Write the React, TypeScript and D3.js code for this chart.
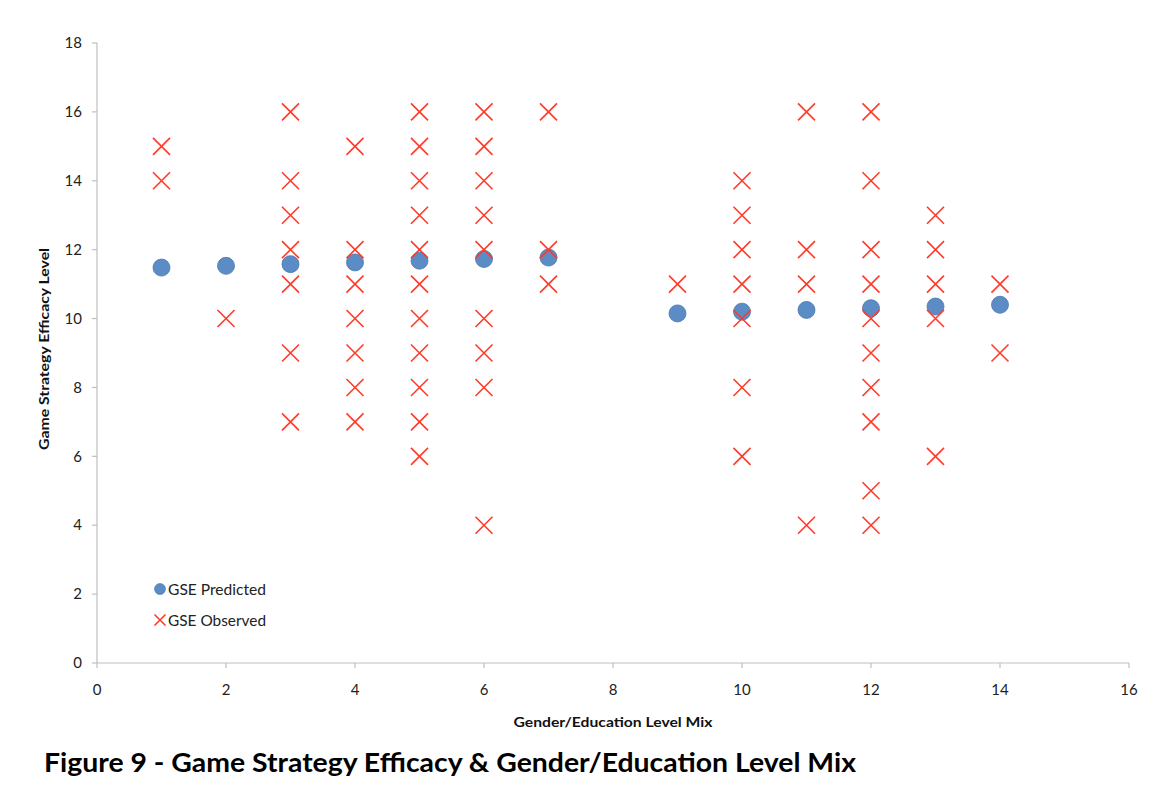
import React from "react";
import * as d3 from "d3";

const predX = [1, 2, 3, 4, 5, 6, 7, 9, 10, 11, 12, 13, 14];
const predY = [11.48, 11.53, 11.58, 11.63, 11.68, 11.73, 11.77, 10.15, 10.2, 10.25, 10.3, 10.35, 10.4];

const obsX = [
  1, 1,
  2,
  3, 3, 3, 3, 3, 3, 3,
  4, 4, 4, 4, 4, 4, 4,
  5, 5, 5, 5, 5, 5, 5, 5, 5, 5, 5,
  6, 6, 6, 6, 6, 6, 6, 6, 6,
  7, 7, 7,
  9,
  10, 10, 10, 10, 10, 10, 10,
  11, 11, 11, 11,
  12, 12, 12, 12, 12, 12, 12, 12, 12, 12,
  13, 13, 13, 13, 13,
  14, 14,
];
const obsY = [
  15, 14,
  10,
  16, 14, 13, 12, 11, 9, 7,
  15, 12, 11, 10, 9, 8, 7,
  16, 15, 14, 13, 12, 11, 10, 9, 8, 7, 6,
  16, 15, 14, 13, 12, 10, 9, 8, 4,
  16, 12, 11,
  11,
  14, 13, 12, 11, 10, 8, 6,
  16, 12, 11, 4,
  16, 14, 12, 11, 10, 9, 8, 7, 5, 4,
  13, 12, 11, 10, 6,
  11, 9,
];

const xTicks = [0, 2, 4, 6, 8, 10, 12, 14, 16];
const yTicks = [0, 2, 4, 6, 8, 10, 12, 14, 16, 18];

const titleText = "Figure 9 - Game Strategy Efficacy & Gender/Education Level Mix";
const xLabel = "Gender/Education Level Mix";
const yLabel = "Game Strategy Efficacy Level";
const legendLabels = ["GSE Predicted", "GSE Observed"];

const W = 1155;
const H = 785;
const left = 97;
const right = 1129;
const top = 43;
const bottom = 663;

const font = "Lato, 'Open Sans', sans-serif";
const red = "#ff3a2a";
const blue = "#5b8cc6";

function Cross({ cx, cy, s }: { cx: number; cy: number; s: number }) {
  return (
    <path
      d={`M${cx - s},${cy - s}L${cx + s},${cy + s}M${cx - s},${cy + s}L${cx + s},${cy - s}`}
      stroke={red}
      strokeWidth={1.6}
      fill="none"
    />
  );
}

export default function App() {
  const x = d3.scaleLinear().domain([0, 16]).range([left, right]);
  const y = d3.scaleLinear().domain([0, 18]).range([bottom, top]);
  const axisColor = "#bfbfbf";
  return (
    <div style={{ position: "absolute", left: 0, top: 0 }}>
      <svg width={W} height={H} style={{ display: "block", background: "#fff" }}>
        {/* axes */}
        <line x1={left} x2={left} y1={top} y2={bottom} stroke={axisColor} strokeWidth={1.2} />
        <line x1={left} x2={right} y1={bottom} y2={bottom} stroke={axisColor} strokeWidth={1.2} />
        {yTicks.map((t) => (
          <g key={"y" + t}>
            <line x1={left - 5} x2={left} y1={y(t)} y2={y(t)} stroke={axisColor} strokeWidth={1.2} />
            <text x={left - 15} y={y(t)} dy="0.35em" textAnchor="end" fontFamily={font} fontSize={15} fill="#222">
              {t}
            </text>
          </g>
        ))}
        {xTicks.map((t) => (
          <g key={"x" + t}>
            <line x1={x(t)} x2={x(t)} y1={bottom} y2={bottom + 5} stroke={axisColor} strokeWidth={1.2} />
            <text x={x(t)} y={bottom + 27} dy="0.35em" textAnchor="middle" fontFamily={font} fontSize={15} fill="#222">
              {t}
            </text>
          </g>
        ))}
        {/* predicted */}
        {predX.map((v, i) => (
          <circle key={"p" + i} cx={x(v)} cy={y(predY[i])} r={8.5} fill={blue} stroke="#4a76aa" strokeWidth={0.8} />
        ))}
        {/* observed */}
        {obsX.map((v, i) => (
          <Cross key={"o" + i} cx={x(v)} cy={y(obsY[i])} s={8.5} />
        ))}
        {/* legend */}
        <circle cx={160} cy={589} r={5.5} fill={blue} stroke="#4a76aa" strokeWidth={0.6} />
        <text x={168} y={590} dy="0.35em" fontFamily={font} fontSize={15} fill="#222" textLength={98} lengthAdjust="spacingAndGlyphs">{legendLabels[0]}</text>
        <Cross cx={160} cy={620} s={5.5} />
        <text x={168} y={621} dy="0.35em" fontFamily={font} fontSize={15} fill="#222" textLength={98} lengthAdjust="spacingAndGlyphs">{legendLabels[1]}</text>
        {/* axis titles */}
        <text x={(left + right) / 2} y={722} dy="0.35em" textAnchor="middle" fontFamily={font} fontWeight="bold" fontSize={14} fill="#111" textLength={199} lengthAdjust="spacingAndGlyphs">
          {xLabel}
        </text>
        <text
          transform={`translate(44, 349) rotate(-90)`}
          dy="0.35em"
          textAnchor="middle"
          fontFamily={font}
          fontWeight="bold"
          fontSize={14}
          fill="#111"
          textLength={202}
          lengthAdjust="spacingAndGlyphs"
        >
          {yLabel}
        </text>
        {/* figure caption */}
        <text x={44} y={772} fontFamily={font} fontWeight="bold" fontSize={27} fill="#000" textLength={812} lengthAdjust="spacingAndGlyphs">
          {titleText}
        </text>
      </svg>
    </div>
  );
}
